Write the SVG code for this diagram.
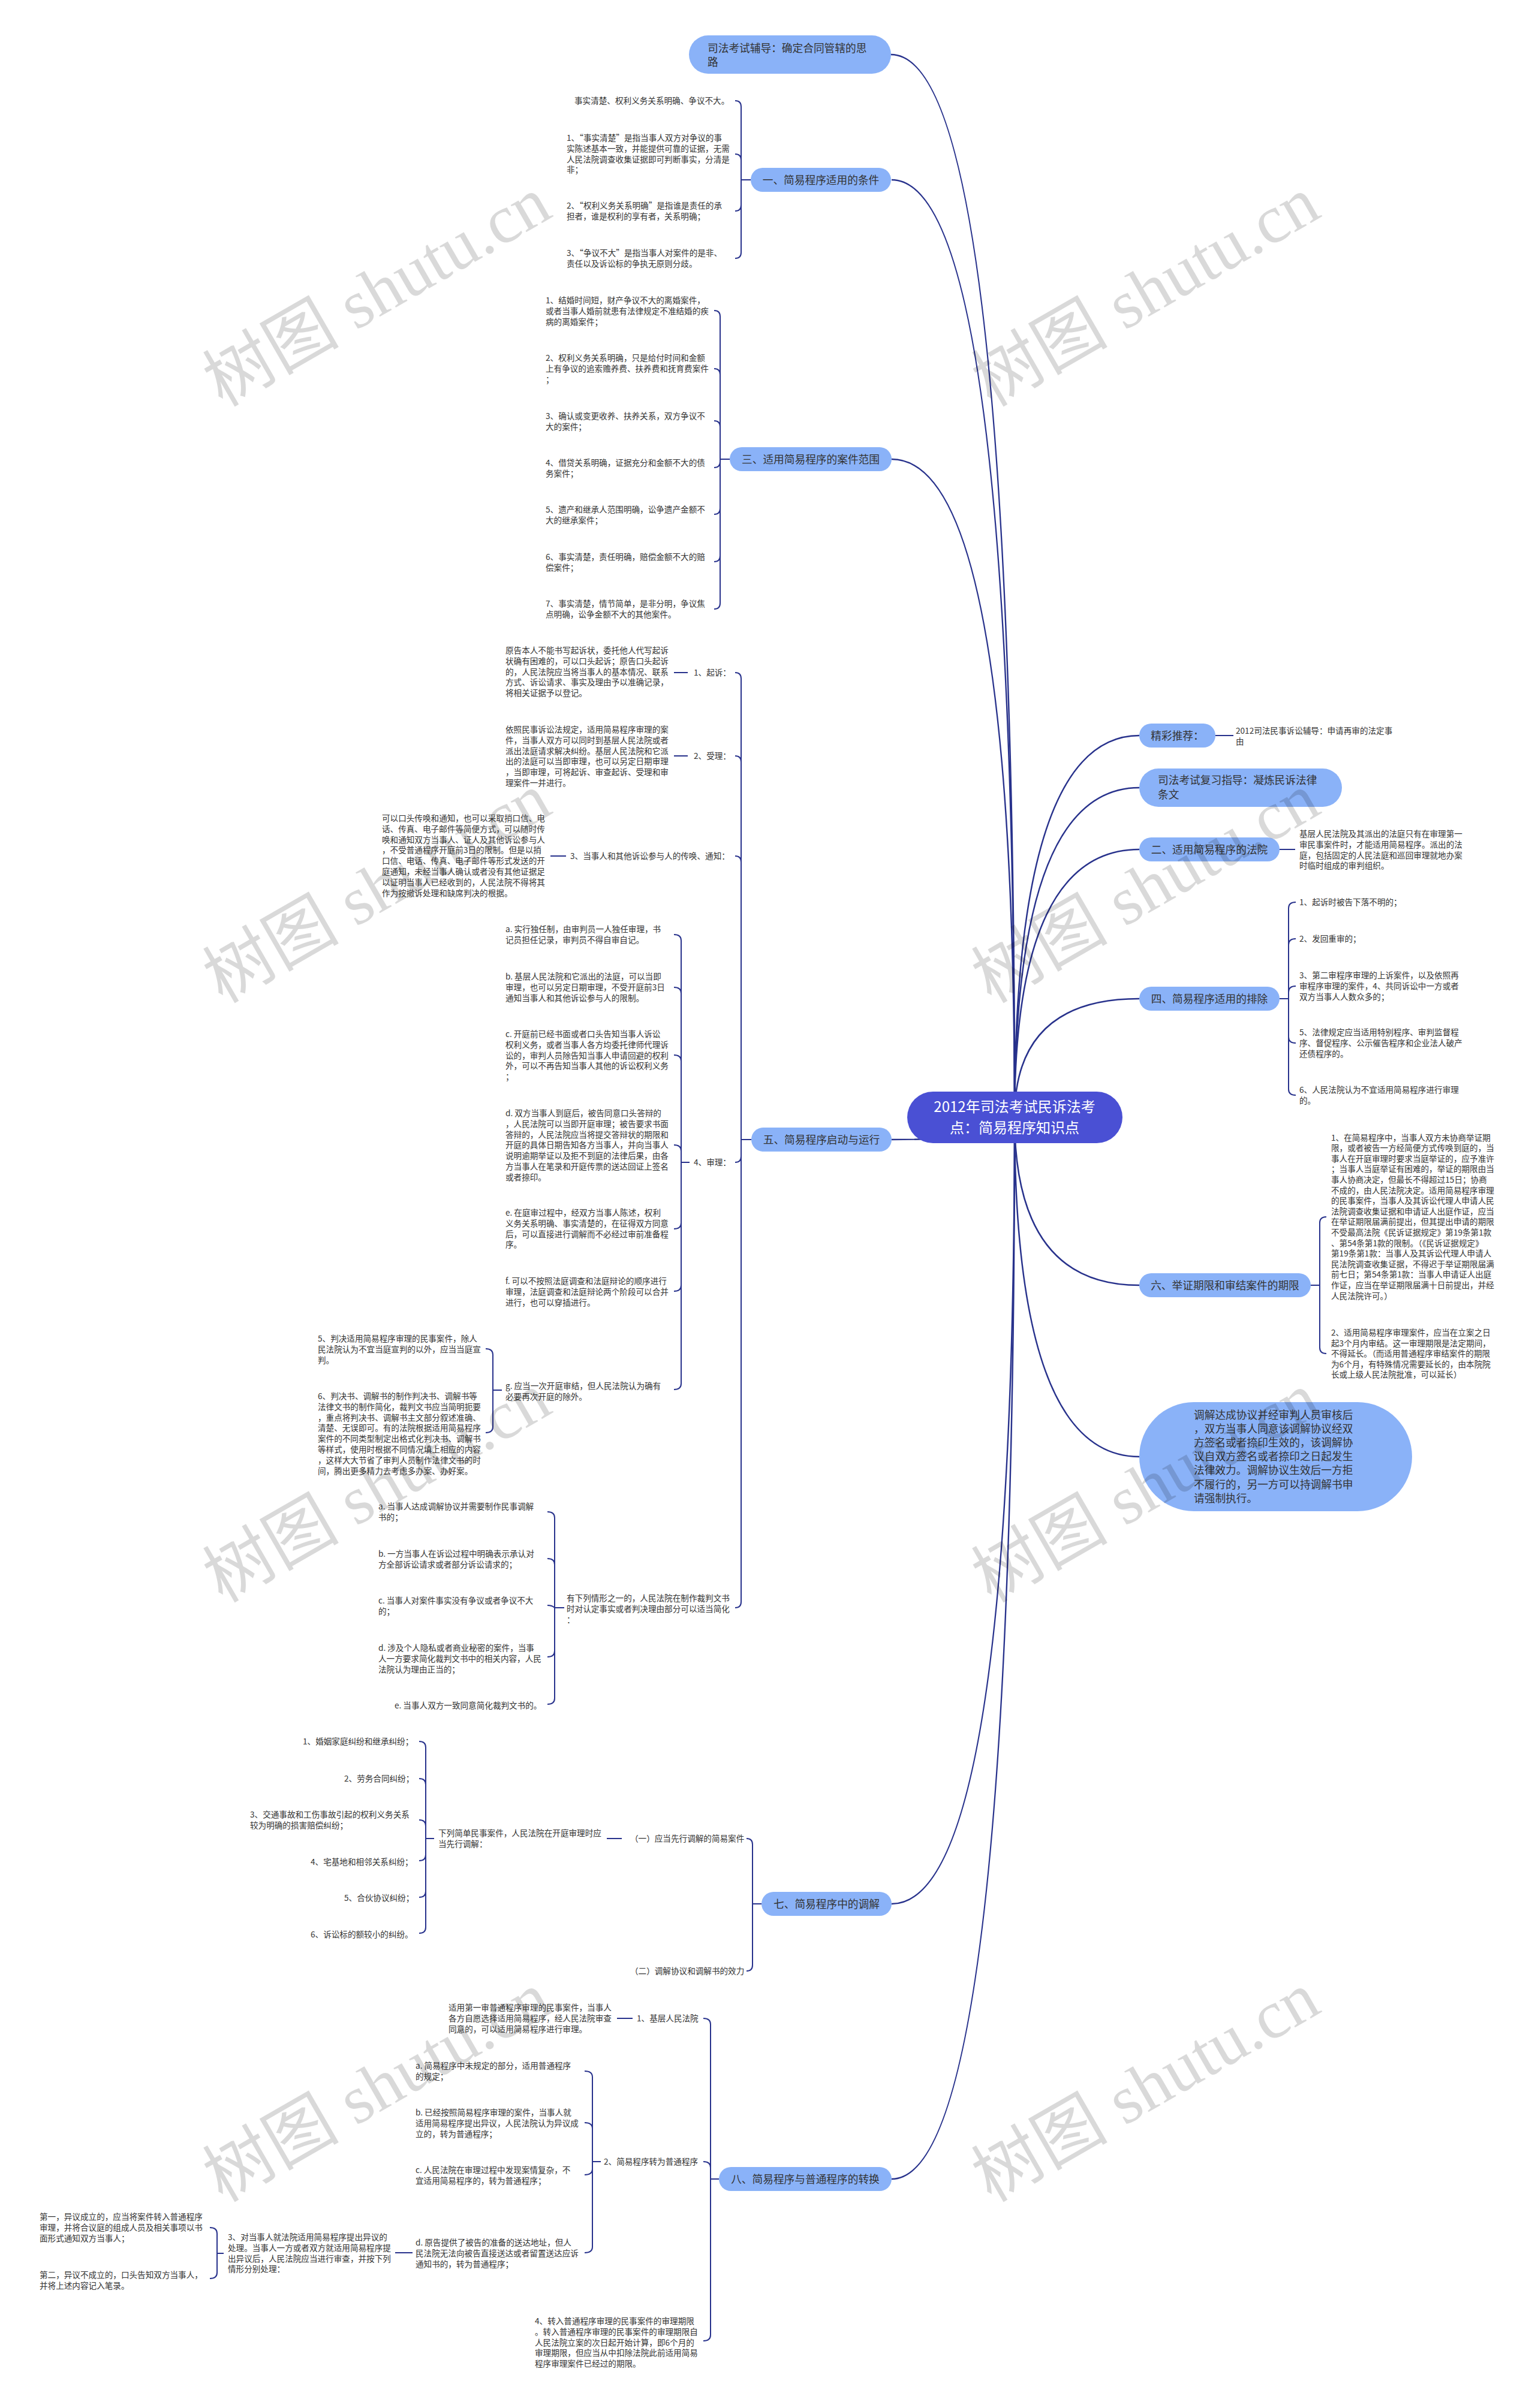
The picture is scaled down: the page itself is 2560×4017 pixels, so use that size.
<svg xmlns="http://www.w3.org/2000/svg" width="2560" height="4017" viewBox="0 0 2560 4017">
<style>
text{font-family:"Noto Sans CJK SC","Liberation Sans",sans-serif;}
.lf{font-size:13.6px;fill:#333;}
.nt{font-size:17.7px;fill:#333;}
.mid{text-anchor:middle;}
.rt{font-size:24px;fill:#fff;text-anchor:middle;}
.nd{fill:#8ab2f8;}
.root{fill:#4a50d4;}
.c{fill:none;stroke:#28328c;stroke-width:2.5;}
.b{fill:none;stroke:#28328c;stroke-width:2;}
.wm{font-family:"Liberation Serif","Noto Sans CJK SC",serif;font-size:114px;fill:#000;fill-opacity:0.15;text-anchor:middle;}
</style>
<rect width="2560" height="4017" fill="#fff"/>
<g id="connectors">
<path class="c" d="M1692 1864Q1692 91 1486 91"/>
<path class="c" d="M1692 1864Q1692 300 1487 300"/>
<path class="c" d="M1692 1864Q1692 766 1487 766"/>
<path class="c" d="M1692 1864Q1692 1901 1487 1901"/>
<path class="c" d="M1692 1864Q1692 3176 1487 3176"/>
<path class="c" d="M1692 1864Q1692 3635 1487 3635"/>
<path class="c" d="M1692 1864Q1692 1227 1900 1227"/>
<path class="c" d="M1692 1864Q1692 1314 1900 1314"/>
<path class="c" d="M1692 1864Q1692 1417 1900 1417"/>
<path class="c" d="M1692 1864Q1692 1666 1900 1666"/>
<path class="c" d="M1692 1864Q1692 2144 1900 2144"/>
<path class="c" d="M1692 1864Q1692 2430 1900 2430"/>
<path class="b" d="M1252 300H1236V178Q1236 168 1226 168M1252 300H1236V267Q1236 257 1226 257M1252 300H1236V342Q1236 352 1226 352M1252 300H1236V421Q1236 431 1226 431"/>
<path class="b" d="M1217 766H1201V528Q1201 518 1191 518M1217 766H1201V625Q1201 615 1191 615M1217 766H1201V712Q1201 702 1191 702M1217 766H1201V770Q1201 780 1191 780M1217 766H1201V848Q1201 858 1191 858M1217 766H1201V927Q1201 937 1191 937M1217 766H1201V1006Q1201 1016 1191 1016"/>
<path class="b" d="M1253 1901H1236V1132Q1236 1122 1226 1122M1253 1901H1236V1271Q1236 1261 1226 1261M1253 1901H1236V1438Q1236 1428 1226 1428M1253 1901H1236V1929Q1236 1939 1226 1939M1253 1901H1236V2672Q1236 2682 1226 2682"/>
<path class="b" d="M1124 1122H1147M1124 1261H1147M918 1428H944"/>
<path class="b" d="M1150 1939H1136V1569Q1136 1559 1124 1559M1150 1939H1136V1657Q1136 1647 1124 1647M1150 1939H1136V1770Q1136 1760 1124 1760M1150 1939H1136V1920Q1136 1910 1124 1910M1150 1939H1136V2040Q1136 2050 1124 2050M1150 1939H1136V2144Q1136 2154 1124 2154M1150 1939H1136V2308Q1136 2318 1124 2318"/>
<path class="b" d="M837 2319H822V2260Q822 2250 810 2250M837 2319H822V2380Q822 2390 810 2390"/>
<path class="b" d="M941 2682H925V2532Q925 2522 913 2522M941 2682H925V2610Q925 2600 913 2600M941 2682H925Q921 2678 913 2678M941 2682H925V2754Q925 2764 913 2764M941 2682H925V2833Q925 2843 913 2843"/>
<path class="b" d="M1270 3176H1255V3077Q1255 3067 1245 3067M1270 3176H1255V3278Q1255 3288 1245 3288"/>
<path class="b" d="M1012 3067H1037"/>
<path class="b" d="M724 3067H710V2915Q710 2905 699 2905M724 3067H710V2977Q710 2967 699 2967M724 3067H710V3046Q710 3036 699 3036M724 3067H710V3094Q710 3104 699 3104M724 3067H710V3155Q710 3165 699 3165M724 3067H710V3215Q710 3225 699 3225"/>
<path class="b" d="M1199 3635H1185V3377Q1185 3367 1173 3367M1199 3635H1185V3616Q1185 3606 1173 3606M1199 3635H1185V3895Q1185 3905 1173 3905"/>
<path class="b" d="M1029 3367H1055"/>
<path class="b" d="M1002 3606H988V3465Q988 3455 975 3455M1002 3606H988V3551Q988 3541 975 3541M1002 3606H988V3618Q988 3628 975 3628M1002 3606H988V3748Q988 3758 975 3758"/>
<path class="b" d="M659 3758H688"/>
<path class="b" d="M373 3759H362V3726Q362 3716 350 3716M373 3759H362V3791Q362 3801 350 3801"/>
<path class="b" d="M2027 1227H2057M2134 1417H2160"/>
<path class="b" d="M2134 1666H2149V1515Q2149 1505 2161 1505M2134 1666H2149V1576Q2149 1566 2161 1566M2134 1666H2149V1655Q2149 1645 2161 1645M2134 1666H2149V1730Q2149 1740 2161 1740M2134 1666H2149V1817Q2149 1827 2161 1827"/>
<path class="b" d="M2186 2144H2201V2040Q2201 2030 2212 2030M2186 2144H2201V2248Q2201 2258 2212 2258"/>
</g>
<g id="root"><rect class="root" x="1513" y="1821" width="359" height="86" rx="43"/><text class="rt"><tspan x="1692" y="1855">2012年司法考试民诉法考</tspan><tspan x="1692" y="1890">点：简易程序知识点</tspan></text></g>
<g id="n-top"><rect class="nd" x="1149" y="59" width="337" height="64" rx="32"/><text class="nt"><tspan x="1180" y="86.5">司法考试辅导：确定合同管辖的思</tspan><tspan x="1180" y="109.5">路</tspan></text></g>
<g id="n1"><rect class="nd" x="1252" y="280" width="234" height="40" rx="20"/><text class="nt mid" x="1369" y="306.5">一、简易程序适用的条件</text></g>
<g id="n1-leaves">
<text class="lf" x="958" y="173">事实清楚、权利义务关系明确、争议不大。</text>
<text class="lf"><tspan x="945" y="235">1、“事实清楚”是指当事人双方对争议的事</tspan><tspan x="945" dy="17.8">实陈述基本一致，并能提供可靠的证据，无需</tspan><tspan x="945" dy="17.8">人民法院调查收集证据即可判断事实，分清是</tspan><tspan x="945" dy="17.8">非；</tspan></text>
<text class="lf"><tspan x="945" y="348">2、“权利义务关系明确”是指谁是责任的承</tspan><tspan x="945" dy="17.8">担者，谁是权利的享有者，关系明确；</tspan></text>
<text class="lf"><tspan x="945" y="427">3、“争议不大”是指当事人对案件的是非、</tspan><tspan x="945" dy="17.8">责任以及诉讼标的争执无原则分歧。</tspan></text>
</g>
<g id="n3"><rect class="nd" x="1217" y="746" width="270" height="40" rx="20"/><text class="nt mid" x="1352" y="772.5">三、适用简易程序的案件范围</text></g>
<g id="n3-leaves">
<text class="lf"><tspan x="910" y="506">1、结婚时间短，财产争议不大的离婚案件，</tspan><tspan x="910" dy="17.8">或者当事人婚前就患有法律规定不准结婚的疾</tspan><tspan x="910" dy="17.8">病的离婚案件；</tspan></text>
<text class="lf"><tspan x="910" y="602">2、权利义务关系明确，只是给付时间和金额</tspan><tspan x="910" dy="17.8">上有争议的追索赡养费、扶养费和抚育费案件</tspan><tspan x="910" dy="17.8">；</tspan></text>
<text class="lf"><tspan x="910" y="699">3、确认或变更收养、扶养关系，双方争议不</tspan><tspan x="910" dy="17.8">大的案件；</tspan></text>
<text class="lf"><tspan x="910" y="777">4、借贷关系明确，证据充分和金额不大的债</tspan><tspan x="910" dy="17.8">务案件；</tspan></text>
<text class="lf"><tspan x="910" y="855">5、遗产和继承人范围明确，讼争遗产金额不</tspan><tspan x="910" dy="17.8">大的继承案件；</tspan></text>
<text class="lf"><tspan x="910" y="934">6、事实清楚，责任明确，赔偿金额不大的赔</tspan><tspan x="910" dy="17.8">偿案件；</tspan></text>
<text class="lf"><tspan x="910" y="1012">7、事实清楚，情节简单，是非分明，争议焦</tspan><tspan x="910" dy="17.8">点明确，讼争金额不大的其他案件。</tspan></text>
</g>
<g id="n5"><rect class="nd" x="1253" y="1881" width="234" height="40" rx="20"/><text class="nt mid" x="1370" y="1907.5">五、简易程序启动与运行</text></g>
<g id="n5-children">
<text class="lf" x="1157" y="1127">1、起诉：</text>
<text class="lf" x="1157" y="1266">2、受理：</text>
<text class="lf" x="951" y="1433">3、当事人和其他诉讼参与人的传唤、通知：</text>
<text class="lf" x="1157" y="1944">4、审理：</text>
<text class="lf"><tspan x="843" y="1090">原告本人不能书写起诉状，委托他人代写起诉</tspan><tspan x="843" dy="17.8">状确有困难的，可以口头起诉；原告口头起诉</tspan><tspan x="843" dy="17.8">的，人民法院应当将当事人的基本情况、联系</tspan><tspan x="843" dy="17.8">方式、诉讼请求、事实及理由予以准确记录，</tspan><tspan x="843" dy="17.8">将相关证据予以登记。</tspan></text>
<text class="lf"><tspan x="843" y="1222">依照民事诉讼法规定，适用简易程序审理的案</tspan><tspan x="843" dy="17.8">件，当事人双方可以同时到基层人民法院或者</tspan><tspan x="843" dy="17.8">派出法庭请求解决纠纷。基层人民法院和它派</tspan><tspan x="843" dy="17.8">出的法庭可以当即审理，也可以另定日期审理</tspan><tspan x="843" dy="17.8">，当即审理，可将起诉、审查起诉、受理和审</tspan><tspan x="843" dy="17.8">理案件一并进行。</tspan></text>
<text class="lf"><tspan x="637" y="1370">可以口头传唤和通知，也可以采取捎口信、电</tspan><tspan x="637" dy="17.8">话、传真、电子邮件等简便方式，可以随时传</tspan><tspan x="637" dy="17.8">唤和通知双方当事人、证人及其他诉讼参与人</tspan><tspan x="637" dy="17.8">，不受普通程序开庭前3日的限制。但是以捎</tspan><tspan x="637" dy="17.8">口信、电话、传真、电子邮件等形式发送的开</tspan><tspan x="637" dy="17.8">庭通知，未经当事人确认或者没有其他证据足</tspan><tspan x="637" dy="17.8">以证明当事人已经收到的，人民法院不得将其</tspan><tspan x="637" dy="17.8">作为按撤诉处理和缺席判决的根据。</tspan></text>
<text class="lf"><tspan x="843" y="1555">a. 实行独任制，由审判员一人独任审理，书</tspan><tspan x="843" dy="17.8">记员担任记录，审判员不得自审自记。</tspan></text>
<text class="lf"><tspan x="843" y="1634">b. 基层人民法院和它派出的法庭，可以当即</tspan><tspan x="843" dy="17.8">审理，也可以另定日期审理，不受开庭前3日</tspan><tspan x="843" dy="17.8">通知当事人和其他诉讼参与人的限制。</tspan></text>
<text class="lf"><tspan x="843" y="1730">c. 开庭前已经书面或者口头告知当事人诉讼</tspan><tspan x="843" dy="17.8">权利义务，或者当事人各方均委托律师代理诉</tspan><tspan x="843" dy="17.8">讼的，审判人员除告知当事人申请回避的权利</tspan><tspan x="843" dy="17.8">外，可以不再告知当事人其他的诉讼权利义务</tspan><tspan x="843" dy="17.8">；</tspan></text>
<text class="lf"><tspan x="843" y="1862">d. 双方当事人到庭后，被告同意口头答辩的</tspan><tspan x="843" dy="17.8">，人民法院可以当即开庭审理；被告要求书面</tspan><tspan x="843" dy="17.8">答辩的，人民法院应当将提交答辩状的期限和</tspan><tspan x="843" dy="17.8">开庭的具体日期告知各方当事人，并向当事人</tspan><tspan x="843" dy="17.8">说明逾期举证以及拒不到庭的法律后果，由各</tspan><tspan x="843" dy="17.8">方当事人在笔录和开庭传票的送达回证上签名</tspan><tspan x="843" dy="17.8">或者捺印。</tspan></text>
<text class="lf"><tspan x="843" y="2028">e. 在庭审过程中，经双方当事人陈述，权利</tspan><tspan x="843" dy="17.8">义务关系明确、事实清楚的，在征得双方同意</tspan><tspan x="843" dy="17.8">后，可以直接进行调解而不必经过审前准备程</tspan><tspan x="843" dy="17.8">序。</tspan></text>
<text class="lf"><tspan x="843" y="2142">f. 可以不按照法庭调查和法庭辩论的顺序进行</tspan><tspan x="843" dy="17.8">审理，法庭调查和法庭辩论两个阶段可以合并</tspan><tspan x="843" dy="17.8">进行，也可以穿插进行。</tspan></text>
<text class="lf"><tspan x="843" y="2317">g. 应当一次开庭审结，但人民法院认为确有</tspan><tspan x="843" dy="17.8">必要再次开庭的除外。</tspan></text>
<text class="lf"><tspan x="530" y="2238">5、判决适用简易程序审理的民事案件，除人</tspan><tspan x="530" dy="17.8">民法院认为不宜当庭宣判的以外，应当当庭宣</tspan><tspan x="530" dy="17.8">判。</tspan></text>
<text class="lf"><tspan x="530" y="2334">6、判决书、调解书的制作判决书、调解书等</tspan><tspan x="530" dy="17.8">法律文书的制作简化，裁判文书应当简明扼要</tspan><tspan x="530" dy="17.8">，重点将判决书、调解书主文部分叙述准确、</tspan><tspan x="530" dy="17.8">清楚、无误即可。有的法院根据适用简易程序</tspan><tspan x="530" dy="17.8">案件的不同类型制定出格式化判决书、调解书</tspan><tspan x="530" dy="17.8">等样式，使用时根据不同情况填上相应的内容</tspan><tspan x="530" dy="17.8">，这样大大节省了审判人员制作法律文书的时</tspan><tspan x="530" dy="17.8">间，腾出更多精力去考虑多办案、办好案。</tspan></text>
<text class="lf"><tspan x="945" y="2671">有下列情形之一的，人民法院在制作裁判文书</tspan><tspan x="945" dy="17.8">时对认定事实或者判决理由部分可以适当简化</tspan><tspan x="945" dy="17.8">：</tspan></text>
<text class="lf"><tspan x="631" y="2518">a. 当事人达成调解协议并需要制作民事调解</tspan><tspan x="631" dy="17.8">书的；</tspan></text>
<text class="lf"><tspan x="631" y="2597">b. 一方当事人在诉讼过程中明确表示承认对</tspan><tspan x="631" dy="17.8">方全部诉讼请求或者部分诉讼请求的；</tspan></text>
<text class="lf"><tspan x="631" y="2675">c. 当事人对案件事实没有争议或者争议不大</tspan><tspan x="631" dy="17.8">的；</tspan></text>
<text class="lf"><tspan x="631" y="2754">d. 涉及个人隐私或者商业秘密的案件，当事</tspan><tspan x="631" dy="17.8">人一方要求简化裁判文书中的相关内容，人民</tspan><tspan x="631" dy="17.8">法院认为理由正当的；</tspan></text>
<text class="lf" x="658" y="2850">e. 当事人双方一致同意简化裁判文书的。</text>
</g>
<g id="n7"><rect class="nd" x="1270" y="3156" width="217" height="40" rx="20"/><text class="nt mid" x="1378.5" y="3182.5">七、简易程序中的调解</text></g>
<g id="n7-children">
<text class="lf" x="1051" y="3072">（一）应当先行调解的简易案件</text>
<text class="lf" x="1051" y="3293">（二）调解协议和调解书的效力</text>
<text class="lf"><tspan x="731" y="3063">下列简单民事案件，人民法院在开庭审理时应</tspan><tspan x="731" dy="17.8">当先行调解：</tspan></text>
<text class="lf" x="505" y="2910">1、婚姻家庭纠纷和继承纠纷；</text>
<text class="lf" x="574" y="2972">2、劳务合同纠纷；</text>
<text class="lf"><tspan x="417" y="3032">3、交通事故和工伤事故引起的权利义务关系</tspan><tspan x="417" dy="17.8">较为明确的损害赔偿纠纷；</tspan></text>
<text class="lf" x="518" y="3111">4、宅基地和相邻关系纠纷；</text>
<text class="lf" x="574" y="3171">5、合伙协议纠纷；</text>
<text class="lf" x="518" y="3232">6、诉讼标的额较小的纠纷。</text>
</g>
<g id="n8"><rect class="nd" x="1199" y="3615" width="288" height="40" rx="20"/><text class="nt mid" x="1343" y="3641.5">八、简易程序与普通程序的转换</text></g>
<g id="n8-children">
<text class="lf" x="1062" y="3372">1、基层人民法院</text>
<text class="lf"><tspan x="748" y="3354">适用第一审普通程序审理的民事案件，当事人</tspan><tspan x="748" dy="17.8">各方自愿选择适用简易程序，经人民法院审查</tspan><tspan x="748" dy="17.8">同意的，可以适用简易程序进行审理。</tspan></text>
<text class="lf" x="1007" y="3611">2、简易程序转为普通程序</text>
<text class="lf"><tspan x="693" y="3451">a. 简易程序中未规定的部分，适用普通程序</tspan><tspan x="693" dy="17.8">的规定；</tspan></text>
<text class="lf"><tspan x="693" y="3529">b. 已经按照简易程序审理的案件，当事人就</tspan><tspan x="693" dy="17.8">适用简易程序提出异议，人民法院认为异议成</tspan><tspan x="693" dy="17.8">立的，转为普通程序；</tspan></text>
<text class="lf"><tspan x="693" y="3625">c. 人民法院在审理过程中发现案情复杂，不</tspan><tspan x="693" dy="17.8">宜适用简易程序的，转为普通程序；</tspan></text>
<text class="lf"><tspan x="693" y="3746">d. 原告提供了被告的准备的送达地址，但人</tspan><tspan x="693" dy="17.8">民法院无法向被告直接送达或者留置送达应诉</tspan><tspan x="693" dy="17.8">通知书的，转为普通程序；</tspan></text>
<text class="lf"><tspan x="380" y="3737">3、对当事人就法院适用简易程序提出异议的</tspan><tspan x="380" dy="17.8">处理。当事人一方或者双方就适用简易程序提</tspan><tspan x="380" dy="17.8">出异议后，人民法院应当进行审查，并按下列</tspan><tspan x="380" dy="17.8">情形分别处理：</tspan></text>
<text class="lf"><tspan x="66" y="3703">第一，异议成立的，应当将案件转入普通程序</tspan><tspan x="66" dy="17.8">审理，并将合议庭的组成人员及相关事项以书</tspan><tspan x="66" dy="17.8">面形式通知双方当事人；</tspan></text>
<text class="lf"><tspan x="66" y="3800">第二，异议不成立的，口头告知双方当事人，</tspan><tspan x="66" dy="17.8">并将上述内容记入笔录。</tspan></text>
<text class="lf"><tspan x="892" y="3877">4、转入普通程序审理的民事案件的审理期限</tspan><tspan x="892" dy="17.8">。转入普通程序审理的民事案件的审理期限自</tspan><tspan x="892" dy="17.8">人民法院立案的次日起开始计算，即6个月的</tspan><tspan x="892" dy="17.8">审理期限，但应当从中扣除法院此前适用简易</tspan><tspan x="892" dy="17.8">程序审理案件已经过的期限。</tspan></text>
</g>
<g id="n-jc"><rect class="nd" x="1900" y="1207" width="127" height="40" rx="20"/><text class="nt mid" x="1963.5" y="1233.5">精彩推荐：</text><text class="lf"><tspan x="2061" y="1224">2012司法民事诉讼辅导：申请再审的法定事</tspan><tspan x="2061" dy="17.8">由</tspan></text></g>
<g id="n-fx"><rect class="nd" x="1900" y="1282" width="338" height="64" rx="32"/><text class="nt"><tspan x="1931" y="1307.5">司法考试复习指导：凝炼民诉法律</tspan><tspan x="1931" y="1331.5">条文</tspan></text></g>
<g id="n2"><rect class="nd" x="1900" y="1397" width="234" height="40" rx="20"/><text class="nt mid" x="2017" y="1423.5">二、适用简易程序的法院</text><text class="lf"><tspan x="2167" y="1396">基层人民法院及其派出的法庭只有在审理第一</tspan><tspan x="2167" dy="17.8">审民事案件时，才能适用简易程序。派出的法</tspan><tspan x="2167" dy="17.8">庭，包括固定的人民法庭和巡回审理就地办案</tspan><tspan x="2167" dy="17.8">时临时组成的审判组织。</tspan></text></g>
<g id="n4"><rect class="nd" x="1900" y="1646" width="234" height="40" rx="20"/><text class="nt mid" x="2017" y="1672.5">四、简易程序适用的排除</text>
<text class="lf" x="2167" y="1510">1、起诉时被告下落不明的；</text>
<text class="lf" x="2167" y="1571">2、发回重审的；</text>
<text class="lf"><tspan x="2167" y="1632">3、第二审程序审理的上诉案件，以及依照再</tspan><tspan x="2167" dy="17.8">审程序审理的案件，4、共同诉讼中一方或者</tspan><tspan x="2167" dy="17.8">双方当事人人数众多的；</tspan></text>
<text class="lf"><tspan x="2167" y="1727">5、法律规定应当适用特别程序、审判监督程</tspan><tspan x="2167" dy="17.8">序、督促程序、公示催告程序和企业法人破产</tspan><tspan x="2167" dy="17.8">还债程序的。</tspan></text>
<text class="lf"><tspan x="2167" y="1823">6、人民法院认为不宜适用简易程序进行审理</tspan><tspan x="2167" dy="17.8">的。</tspan></text>
</g>
<g id="n6"><rect class="nd" x="1900" y="2124" width="286" height="40" rx="20"/><text class="nt mid" x="2043" y="2150.5">六、举证期限和审结案件的期限</text>
<text class="lf"><tspan x="2220" y="1902.5">1、在简易程序中，当事人双方未协商举证期</tspan><tspan x="2220" dy="17.6">限，或者被告一方经简便方式传唤到庭的，当</tspan><tspan x="2220" dy="17.6">事人在开庭审理时要求当庭举证的，应予准许</tspan><tspan x="2220" dy="17.6">；当事人当庭举证有困难的，举证的期限由当</tspan><tspan x="2220" dy="17.6">事人协商决定，但最长不得超过15日；协商</tspan><tspan x="2220" dy="17.6">不成的，由人民法院决定。适用简易程序审理</tspan><tspan x="2220" dy="17.6">的民事案件，当事人及其诉讼代理人申请人民</tspan><tspan x="2220" dy="17.6">法院调查收集证据和申请证人出庭作证，应当</tspan><tspan x="2220" dy="17.6">在举证期限届满前提出，但其提出申请的期限</tspan><tspan x="2220" dy="17.6">不受最高法院《民诉证据规定》第19条第1款</tspan><tspan x="2220" dy="17.6">、第54条第1款的限制。（《民诉证据规定》</tspan><tspan x="2220" dy="17.6">第19条第1款：当事人及其诉讼代理人申请人</tspan><tspan x="2220" dy="17.6">民法院调查收集证据，不得迟于举证期限届满</tspan><tspan x="2220" dy="17.6">前七日；第54条第1款：当事人申请证人出庭</tspan><tspan x="2220" dy="17.6">作证，应当在举证期限届满十日前提出，并经</tspan><tspan x="2220" dy="17.6">人民法院许可。）</tspan></text>
<text class="lf"><tspan x="2220" y="2228">2、适用简易程序审理案件，应当在立案之日</tspan><tspan x="2220" dy="17.6">起3个月内审结。这一审理期限是法定期间，</tspan><tspan x="2220" dy="17.6">不得延长。（而适用普通程序审结案件的期限</tspan><tspan x="2220" dy="17.6">为6个月，有特殊情况需要延长的，由本院院</tspan><tspan x="2220" dy="17.6">长或上级人民法院批准，可以延长）</tspan></text>
</g>
<g id="n-big"><rect class="nd" x="1900" y="2339" width="455" height="182" rx="91"/><text class="nt"><tspan x="1991" y="2366.5">调解达成协议并经审判人员审核后</tspan><tspan x="1991" dy="23.2">，双方当事人同意该调解协议经双</tspan><tspan x="1991" dy="23.2">方签名或者捺印生效的，该调解协</tspan><tspan x="1991" dy="23.2">议自双方签名或者捺印之日起发生</tspan><tspan x="1991" dy="23.2">法律效力。调解协议生效后一方拒</tspan><tspan x="1991" dy="23.2">不履行的，另一方可以持调解书申</tspan><tspan x="1991" dy="23.2">请强制执行。</tspan></text></g>
<g id="watermarks">
<text class="wm" transform="translate(648,520) rotate(-30)">树图 shutu.cn</text>
<text class="wm" transform="translate(1930,520) rotate(-30)">树图 shutu.cn</text>
<text class="wm" transform="translate(648,1515) rotate(-30)">树图 shutu.cn</text>
<text class="wm" transform="translate(1930,1515) rotate(-30)">树图 shutu.cn</text>
<text class="wm" transform="translate(648,2515) rotate(-30)">树图 shutu.cn</text>
<text class="wm" transform="translate(1930,2515) rotate(-30)">树图 shutu.cn</text>
<text class="wm" transform="translate(648,3515) rotate(-30)">树图 shutu.cn</text>
<text class="wm" transform="translate(1930,3515) rotate(-30)">树图 shutu.cn</text>
</g>
</svg>
